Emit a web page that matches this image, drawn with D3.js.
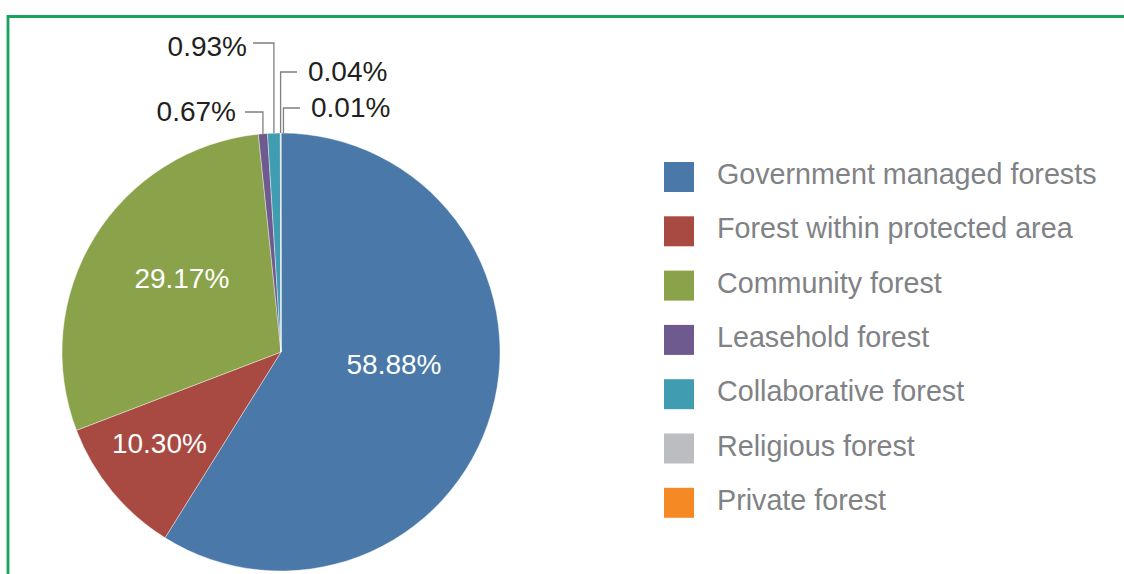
<!DOCTYPE html>
<html>
<head>
<meta charset="utf-8">
<script src="https://cdn.jsdelivr.net/npm/d3@7"></script>
<style>
  html, body { margin: 0; padding: 0; background: #ffffff; }
  svg { display: block; }
  text { font-family: "Liberation Sans", Arial, Helvetica, sans-serif; }
</style>
</head>
<body>
<svg id="chart" width="1124" height="574"></svg>
<script>
// Forest area by management regime (% of total)
const categories = [
  "Government managed forests",
  "Forest within protected area",
  "Community forest",
  "Leasehold forest",
  "Collaborative forest",
  "Religious forest",
  "Private forest"
];
const shares = [58.88, 10.30, 29.17, 0.67, 0.93, 0.04, 0.01];
const palette = ["#4a79a9", "#a84a42", "#8aa24a", "#6e5a8f", "#3f9cb1", "#bcbdc0", "#f58a24"];

// Label placement: inside labels (radius fraction) or outside with an elbow leader
const labelStyle = [
  { inside: true, r: 0.52, da: -9 },
  { inside: true, r: 0.70, da: 2 },
  { inside: true, r: 0.56, da: 4.5 },
  { inside: false, side: "left",  elbowY: 112, dx: 0,   end: 245 },
  { inside: false, side: "left",  elbowY: 43,  dx: 0,   end: 253 },
  { inside: false, side: "right", elbowY: 72,  dx: 0,   end: 297 },
  { inside: false, side: "right", elbowY: 108, dx: 2.5, end: 300 }
];

const svg = d3.select("#chart");

// green frame
svg.append("path")
  .attr("d", "M8,1200 L8,16.5 L1200,16.5")
  .attr("fill", "none")
  .attr("stroke", "#16a35a")
  .attr("stroke-width", 2.8);

const cx = 281, cy = 352, R = 219;
const data = categories.map((c, i) => ({ name: c, value: shares[i], color: palette[i], i }));

const pie = d3.pie().sort(null).value(d => d.value);
const arcs = pie(data);
const arc = d3.arc().innerRadius(0).outerRadius(R);

const g = svg.append("g").attr("transform", `translate(${cx},${cy})`);

g.selectAll("path.slice")
  .data(arcs)
  .join("path")
  .attr("class", "slice")
  .attr("d", arc)
  .attr("fill", d => d.data.color)
  .attr("stroke", "#ffffff")
  .attr("stroke-width", 0.4);

const fmt = v => v.toFixed(2) + "%";

arcs.forEach((a, i) => {
  const s = labelStyle[i];
  const mid = (a.startAngle + a.endAngle) / 2;
  if (s.inside) {
    const ang = mid + s.da * Math.PI / 180;
    const x = Math.sin(ang) * R * s.r;
    const y = -Math.cos(ang) * R * s.r;
    g.append("text")
      .attr("x", x).attr("y", y - 1.5)
      .attr("text-anchor", "middle")
      .attr("dominant-baseline", "central")
      .attr("fill", "#ffffff")
      .attr("font-size", 28)
      .text(fmt(a.data.value));
  } else {
    const ax = Math.sin(mid) * R + s.dx;
    const ay = -Math.cos(mid) * R;
    const ey = s.elbowY - cy;
    const ex = s.end - cx;
    g.append("path")
      .attr("d", `M${ax},${ay} L${ax},${ey} L${ex},${ey}`)
      .attr("fill", "none")
      .attr("stroke", "#7f7f7f")
      .attr("stroke-width", 1.3);
    const left = s.side === "left";
    g.append("text")
      .attr("x", left ? ex - (i === 3 ? 9 : 6) : ex + 11)
      .attr("y", ey + (i === 4 ? 4 : 0) - 1)
      .attr("text-anchor", left ? "end" : "start")
      .attr("dominant-baseline", "central")
      .attr("fill", "#231f20")
      .attr("font-size", 28)
      .text(fmt(a.data.value));
  }
});

// legend
const legend = svg.append("g").attr("transform", "translate(664,162)");
const row = legend.selectAll("g.item")
  .data(data)
  .join("g")
  .attr("class", "item")
  .attr("transform", (d, i) => `translate(0,${i * 54.3})`);
row.append("rect")
  .attr("width", 30).attr("height", 30)
  .attr("fill", d => d.color);
row.append("text")
  .attr("x", 53).attr("y", 12)
  .attr("dominant-baseline", "central")
  .attr("fill", "#808285")
  .attr("font-size", 28.7)
  .text(d => d.name);
</script>
</body>
</html>
